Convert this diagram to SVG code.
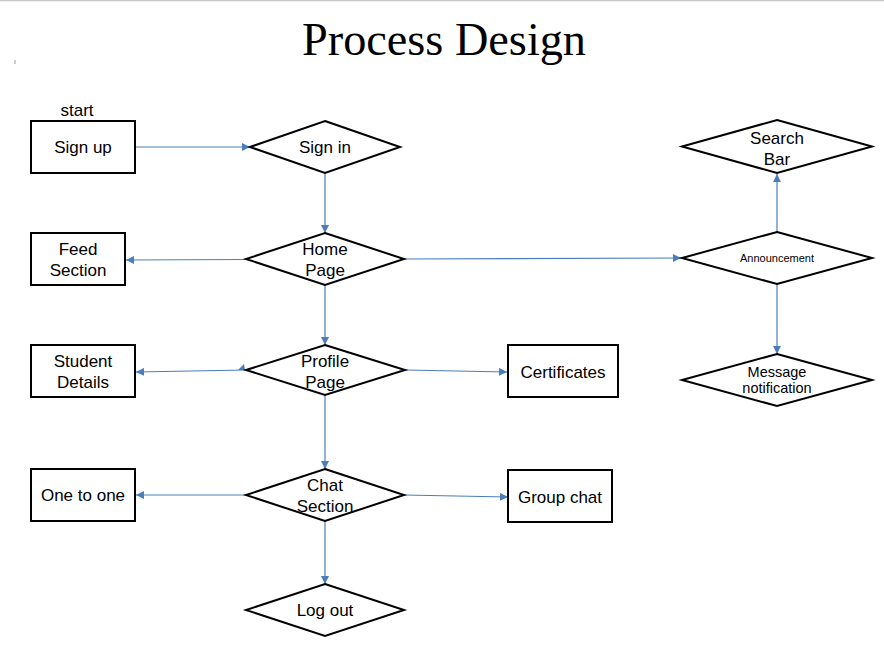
<svg xmlns="http://www.w3.org/2000/svg" width="884" height="668" viewBox="0 0 884 668">
<style>
.box{fill:#fff;stroke:#000;stroke-width:2}
.t{font-family:"Liberation Sans",Arial,sans-serif;font-size:17px;fill:#000;text-anchor:middle}
.c{stroke:#4a7ebb;stroke-width:1.2;fill:none;marker-end:url(#ah)}
</style>
<defs>
<marker id="ah" viewBox="0 0 10 10" refX="10" refY="5" markerWidth="8" markerHeight="8" markerUnits="userSpaceOnUse" orient="auto">
<path d="M0,0 L10,5 L0,10 z" fill="#4a7ebb"/>
</marker>
</defs>
<rect width="884" height="668" fill="#fff"/>
<line x1="0" y1="0.5" x2="884" y2="0.5" stroke="#c8c8c8" stroke-width="1.5"/>
<line x1="15" y1="60" x2="15" y2="64" stroke="#999" stroke-width="1"/>
<text x="444" y="55" font-family="'Liberation Serif','Times New Roman',serif" font-size="46" text-anchor="middle" textLength="284" lengthAdjust="spacingAndGlyphs">Process Design</text>
<text class="t" x="77" y="116">start</text>

<g id="connectors">
<line class="c" x1="135" y1="147" x2="250" y2="147"/>
<line class="c" x1="325" y1="173" x2="325" y2="233"/>
<line class="c" x1="246" y1="259.5" x2="126" y2="260"/>
<line class="c" x1="404" y1="259" x2="681" y2="258"/>
<line class="c" x1="777" y1="232" x2="777" y2="174"/>
<line class="c" x1="777" y1="284" x2="777" y2="354"/>
<line class="c" x1="325" y1="285" x2="325" y2="345"/>
<line class="c" x1="246" y1="370" x2="136" y2="372"/>
<path d="M238,370 L244,364 L245,370 z" fill="#4a7ebb"/>
<line class="c" x1="405" y1="370" x2="507" y2="372"/>
<line class="c" x1="325" y1="395" x2="325" y2="469"/>
<line class="c" x1="246" y1="495" x2="136" y2="495"/>
<line class="c" x1="404" y1="495" x2="508" y2="497"/>
<line class="c" x1="325" y1="521" x2="325" y2="584"/>
</g>

<g id="signup"><rect class="box" x="31" y="121" width="104" height="52"/><text class="t" x="83" y="153">Sign up</text></g>
<g id="signin"><polygon class="box" points="325,121 400,147 325,173 250,147"/><text class="t" x="325" y="153">Sign in</text></g>
<g id="home"><polygon class="box" points="325,233 404,259 325,285 246,259"/><text class="t" x="325" y="255">Home</text><text class="t" x="325" y="276">Page</text></g>
<g id="feed"><rect class="box" x="31" y="233" width="94" height="52"/><text class="t" x="78" y="255">Feed</text><text class="t" x="78" y="276">Section</text></g>
<g id="search"><polygon class="box" points="777,120 872,146.5 777,173 682,146.5"/><text class="t" x="777" y="144">Search</text><text class="t" x="777" y="165">Bar</text></g>
<g id="announcement"><polygon class="box" points="777,232 872,258 777,284 682,258"/><text class="t" x="777" y="262" style="font-size:11px">Announcement</text></g>
<g id="message"><polygon class="box" points="777,354 872,380 777,406 682,380"/><text class="t" x="777" y="377" style="font-size:14.5px">Message</text><text class="t" x="777" y="393" style="font-size:14.5px">notification</text></g>
<g id="profile"><polygon class="box" points="325,345 405,370 325,395 246,370"/><text class="t" x="325" y="367">Profile</text><text class="t" x="325" y="388">Page</text></g>
<g id="student"><rect class="box" x="31" y="345" width="104" height="52"/><text class="t" x="83" y="367">Student</text><text class="t" x="83" y="388">Details</text></g>
<g id="certificates"><rect class="box" x="508" y="345" width="110" height="52"/><text class="t" x="563" y="378">Certificates</text></g>
<g id="chat"><polygon class="box" points="325,469 404,495 325,521 246,495"/><text class="t" x="325" y="491">Chat</text><text class="t" x="325" y="512">Section</text></g>
<g id="onetoone"><rect class="box" x="31" y="469" width="104" height="52"/><text class="t" x="83" y="501">One to one</text></g>
<g id="groupchat"><rect class="box" x="508" y="470" width="104" height="52"/><text class="t" x="560" y="503">Group chat</text></g>
<g id="logout"><polygon class="box" points="325,584 404,610 325,636 246,610"/><text class="t" x="325" y="616">Log out</text></g>
</svg>
